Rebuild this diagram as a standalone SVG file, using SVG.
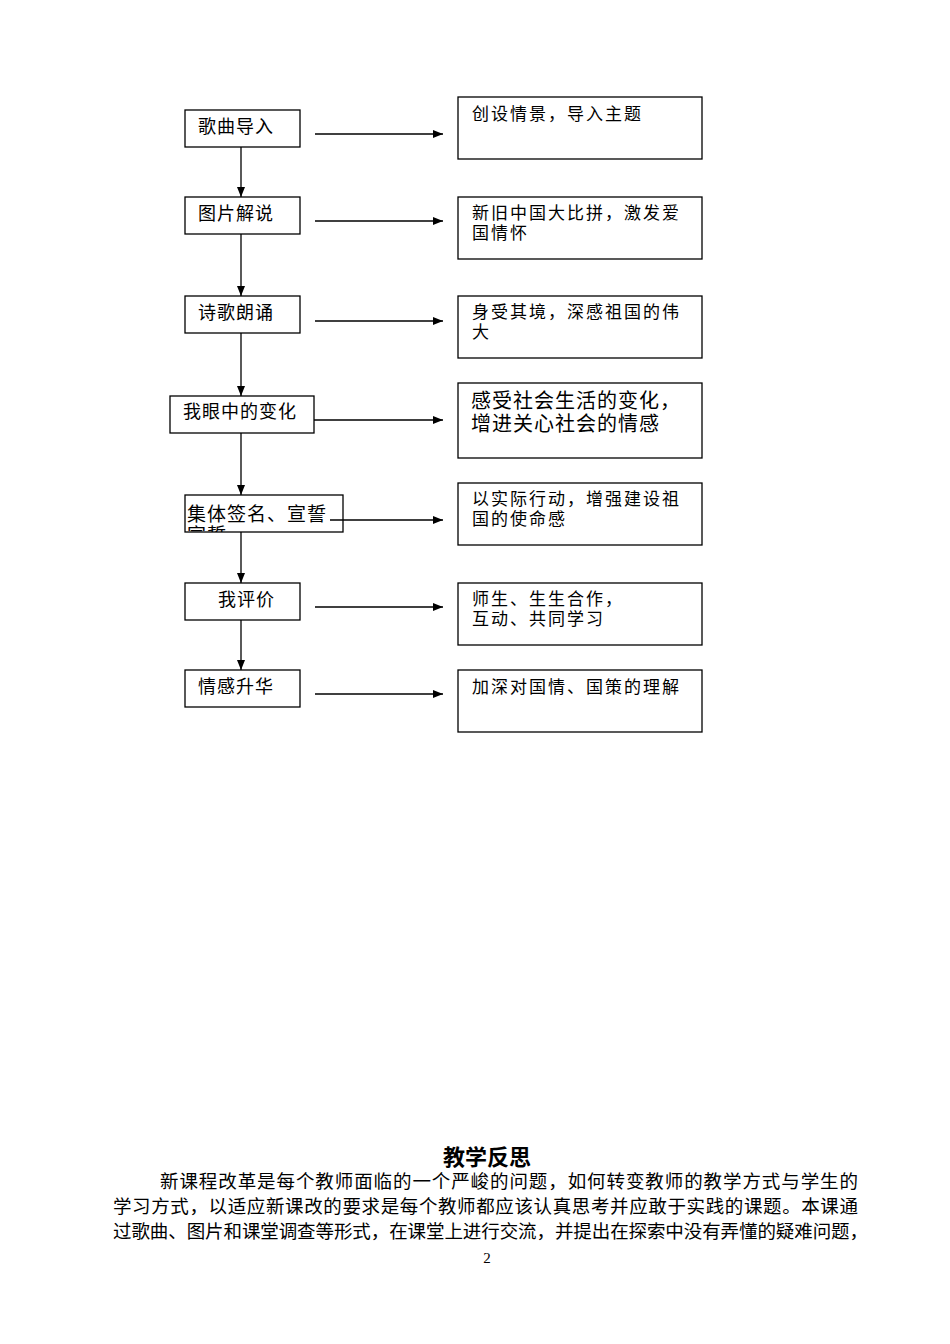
<svg xmlns="http://www.w3.org/2000/svg" width="950" height="1344" viewBox="0 0 950 1344">
<style>
.box{fill:#fff;stroke:#000;stroke-width:1.3}
.t{font-family:"Noto Sans CJK SC","Noto Sans",sans-serif;font-size:18px;fill:#000;letter-spacing:1px}
.r{font-family:"Noto Sans CJK SC","Noto Sans",sans-serif;font-size:17px;fill:#000;letter-spacing:2px}
.tb{font-family:"Noto Sans CJK SC","Noto Sans",sans-serif;font-size:20px;fill:#000;letter-spacing:1px}
.c{stroke:#000;stroke-width:1.3;fill:none}
.p{font-family:"Noto Sans CJK SC","Noto Sans",sans-serif;font-size:18.5px;fill:#000}
.h{font-family:"Noto Sans CJK SC","Noto Sans",sans-serif;font-size:22px;font-weight:bold;fill:#000}
</style>
<defs>
<marker id="ah" viewBox="0 0 10 8" refX="10" refY="4" markerWidth="10" markerHeight="8" markerUnits="userSpaceOnUse" orient="auto">
<path d="M0,0 L10,4 L0,8 Z" fill="#000"/>
</marker>
<clipPath id="clip5"><rect x="185" y="495" width="158" height="37"/></clipPath>
</defs>
<rect width="950" height="1344" fill="#fff"/>
<g id="n1"><rect class="box" x="185" y="110" width="115" height="37"/><text class="t" x="198" y="133">歌曲导入</text></g>
<g id="n2"><rect class="box" x="185" y="197" width="115" height="37"/><text class="t" x="198" y="220">图片解说</text></g>
<g id="n3"><rect class="box" x="185" y="296" width="115" height="37"/><text class="t" x="198" y="319">诗歌朗诵</text></g>
<g id="n4"><rect class="box" x="170" y="396" width="144" height="37"/><text class="t" x="183" y="418">我眼中的变化</text></g>
<g id="n5"><rect class="box" x="185" y="495" width="158" height="37"/><g clip-path="url(#clip5)"><text class="t" x="187" y="521" style="font-size:19px">集体签名、宣誓</text><text class="t" x="187" y="542" style="font-size:19px">宣誓</text></g></g>
<g id="n6"><rect class="box" x="185" y="583" width="115" height="37"/><text class="t" x="218" y="606">我评价</text></g>
<g id="n7"><rect class="box" x="185" y="670" width="115" height="37"/><text class="t" x="198" y="693">情感升华</text></g>

<g id="r1"><rect class="box" x="458" y="97" width="244" height="62"/><text class="r" x="472" y="120">创设情景，导入主题</text></g>
<g id="r2"><rect class="box" x="458" y="197" width="244" height="62"/><text class="r" x="472" y="219">新旧中国大比拼，激发爱</text><text class="r" x="472" y="239">国情怀</text></g>
<g id="r3"><rect class="box" x="458" y="296" width="244" height="62"/><text class="r" x="472" y="318">身受其境，深感祖国的伟</text><text class="r" x="472" y="338">大</text></g>
<g id="r4"><rect class="box" x="458" y="383" width="244" height="75"/><text class="tb" x="471" y="408">感受社会生活的变化，</text><text class="tb" x="471" y="431">增进关心社会的情感</text></g>
<g id="r5"><rect class="box" x="458" y="483" width="244" height="62"/><text class="r" x="472" y="505">以实际行动，增强建设祖</text><text class="r" x="472" y="525">国的使命感</text></g>
<g id="r6"><rect class="box" x="458" y="583" width="244" height="62"/><text class="r" x="472" y="605">师生、生生合作，</text><text class="r" x="472" y="625">互动、共同学习</text></g>
<g id="r7"><rect class="box" x="458" y="670" width="244" height="62"/><text class="r" x="472" y="693">加深对国情、国策的理解</text></g>

<g id="connectors">
<line class="c" x1="315" y1="134" x2="443" y2="134" marker-end="url(#ah)"/>
<line class="c" x1="315" y1="221" x2="443" y2="221" marker-end="url(#ah)"/>
<line class="c" x1="315" y1="321" x2="443" y2="321" marker-end="url(#ah)"/>
<line class="c" x1="314" y1="420" x2="443" y2="420" marker-end="url(#ah)"/>
<line class="c" x1="330" y1="520" x2="443" y2="520" marker-end="url(#ah)"/>
<line class="c" x1="315" y1="607" x2="443" y2="607" marker-end="url(#ah)"/>
<line class="c" x1="315" y1="694" x2="443" y2="694" marker-end="url(#ah)"/>
<line class="c" x1="241" y1="147" x2="241" y2="197" marker-end="url(#ah)"/>
<line class="c" x1="241" y1="234" x2="241" y2="296" marker-end="url(#ah)"/>
<line class="c" x1="241" y1="333" x2="241" y2="396" marker-end="url(#ah)"/>
<line class="c" x1="241" y1="433" x2="241" y2="495" marker-end="url(#ah)"/>
<line class="c" x1="241" y1="532" x2="241" y2="583" marker-end="url(#ah)"/>
<line class="c" x1="241" y1="620" x2="241" y2="670" marker-end="url(#ah)"/>
</g>

<text class="h" x="487" y="1165" text-anchor="middle">教学反思</text>
<text class="p" x="160" y="1188" textLength="698" lengthAdjust="spacing">新课程改革是每个教师面临的一个严峻的问题，如何转变教师的教学方式与学生的</text>
<text class="p" x="113" y="1213" textLength="745" lengthAdjust="spacing">学习方式，以适应新课改的要求是每个教师都应该认真思考并应敢于实践的课题。本课通</text>
<text class="p" x="113" y="1238" textLength="755" lengthAdjust="spacing">过歌曲、图片和课堂调查等形式，在课堂上进行交流，并提出在探索中没有弄懂的疑难问题，</text>
<text x="487" y="1263" text-anchor="middle" style="font-family:'Liberation Serif',serif;font-size:15px">2</text>
</svg>
